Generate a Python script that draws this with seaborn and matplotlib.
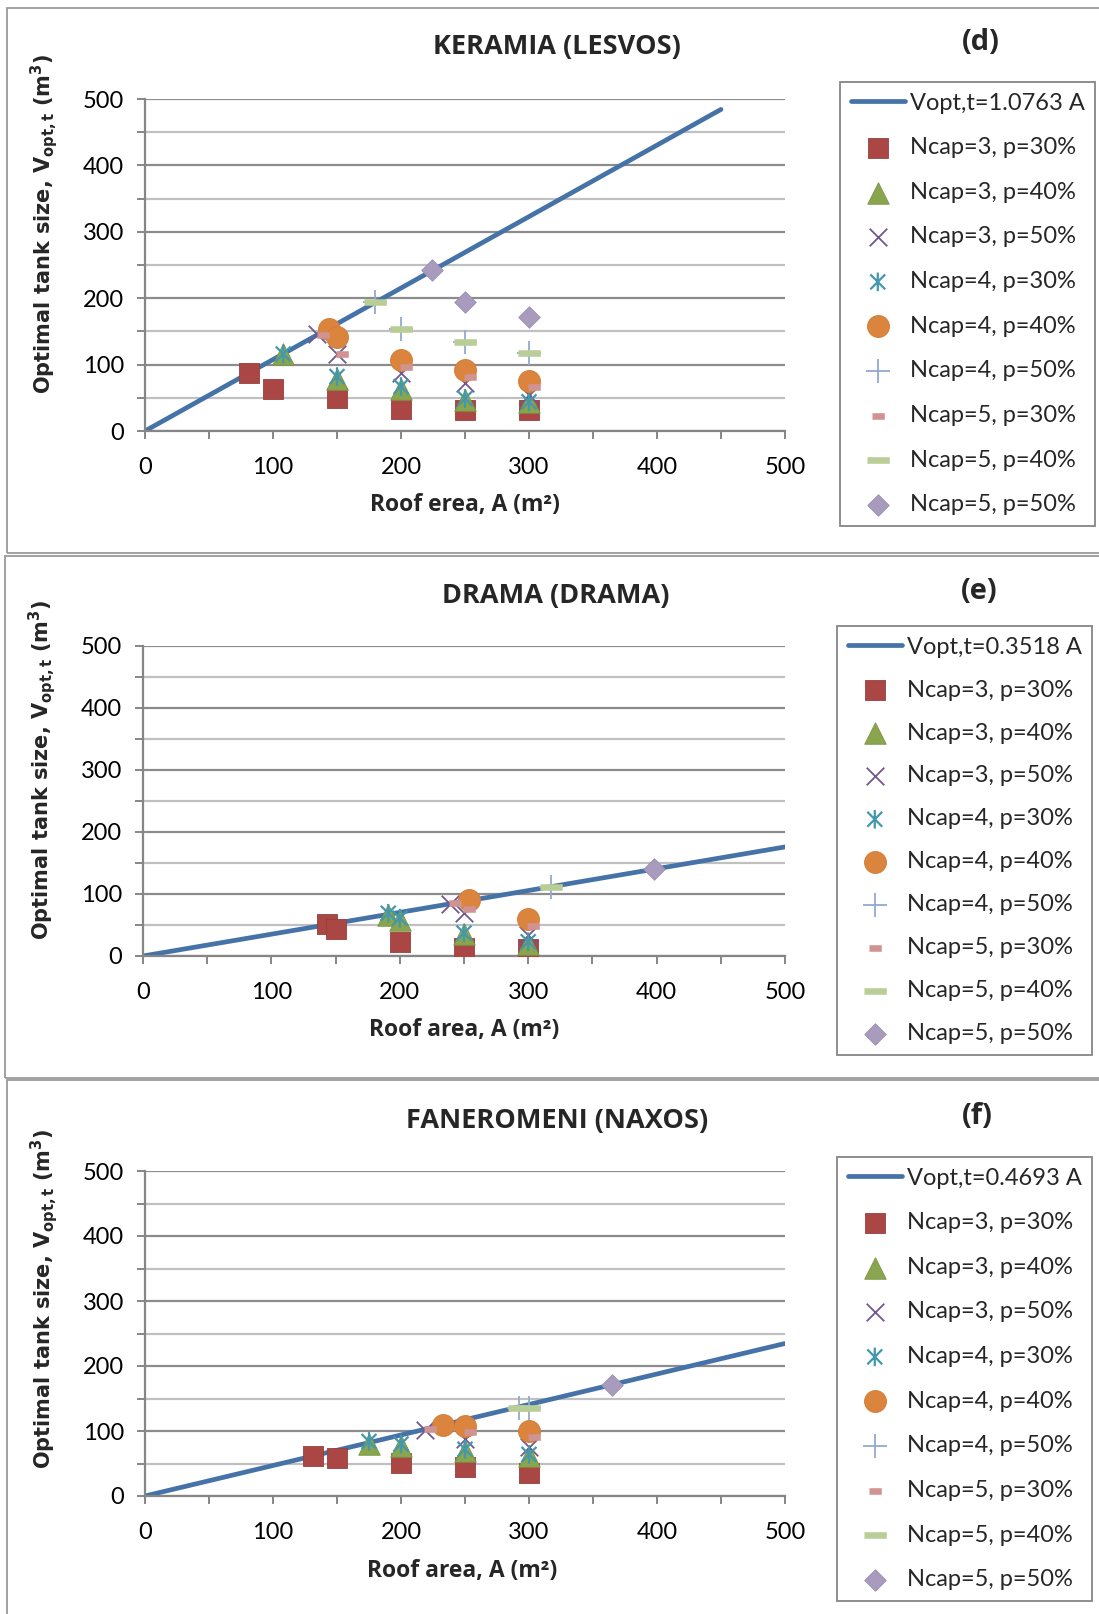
import numpy as np
import matplotlib
matplotlib.use("Agg")
import matplotlib.pyplot as plt
from matplotlib.path import Path
from matplotlib.patches import Rectangle
from matplotlib.ticker import MultipleLocator
import seaborn as sns

# ---------------- data ----------------
series_labels = ["Ncap=3, p=30%", "Ncap=3, p=40%", "Ncap=3, p=50%",
                 "Ncap=4, p=30%", "Ncap=4, p=40%", "Ncap=4, p=50%",
                 "Ncap=5, p=30%", "Ncap=5, p=40%", "Ncap=5, p=50%"]

# Panel (d) KERAMIA (LESVOS)
d_slope = 1.0763
d_line_A = [0, 450]
d_A = [
    [81, 100, 150, 200, 250, 300],
    [108, 150, 200, 250, 300],
    [134, 150, 200, 250, 300],
    [108, 150, 200, 250, 300],
    [144, 150, 200, 250, 300],
    [180, 200, 250, 300],
    [139, 154, 204, 254, 304],
    [180, 200, 250, 300],
    [224, 250, 300],
]
d_V = [
    [87, 63, 49, 33, 32, 32],
    [116, 79, 64, 47, 43],
    [146, 116, 87, 72, 54],
    [116, 82, 67, 49, 44],
    [154, 142, 107, 92, 76],
    [194, 154, 134, 118],
    [145, 116, 97, 81, 66],
    [194, 154, 134, 118],
    [243, 194, 172],
]

# Panel (e) DRAMA (DRAMA)
e_slope = 0.3518
e_line_A = [0, 500]
e_A = [
    [143, 150, 200, 250, 300],
    [191, 200, 250, 300],
    [239, 250, 300],
    [191, 200, 250, 300],
    [254, 300],
    [318],
    [243, 254, 304],
    [318],
    [398],
]
e_V = [
    [51, 44, 23, 13, 12],
    [66, 58, 36, 20],
    [84, 69, 34],
    [69, 61, 37, 23],
    [91, 59],
    [112],
    [85, 75, 49],
    [112],
    [140],
]

# Panel (f) FANEROMENI (NAXOS)
f_slope = 0.4693
f_line_A = [0, 500]
f_A = [
    [131, 150, 200, 250, 300],
    [175, 200, 250, 300],
    [219, 250, 300],
    [175, 200, 250, 300],
    [233, 250, 300],
    [292, 300],
    [223, 254, 304],
    [292, 300],
    [365],
]
f_V = [
    [62, 58, 51, 44, 36],
    [80, 77, 69, 62],
    [102, 88, 76],
    [84, 80, 72, 64],
    [110, 107, 100],
    [136, 136],
    [103, 98, 91],
    [136, 136],
    [171],
]

panels = [
    dict(title="KERAMIA (LESVOS)", tag="(d)", xlabel="Roof erea, A (m\u00b2)",
         slope=d_slope, line_A=d_line_A, A=d_A, V=d_V),
    dict(title="DRAMA (DRAMA)", tag="(e)", xlabel="Roof area, A (m\u00b2)",
         slope=e_slope, line_A=e_line_A, A=e_A, V=e_V),
    dict(title="FANEROMENI (NAXOS)", tag="(f)", xlabel="Roof area, A (m\u00b2)",
         slope=f_slope, line_A=f_line_A, A=f_A, V=f_V),
]

# ---------------- styles ----------------
W, H = 1099, 1614
sns.set_theme(style="white")
plt.rcParams['font.family'] = ['Lato', 'DejaVu Sans']
plt.rcParams['mathtext.fontset'] = 'dejavusans'
BOLD_FAMILY = ['Open Sans', 'DejaVu Sans']

line_color = "#4572A7"
grid_major = "#8C8C8C"
grid_minor = "#C0C0C0"
axis_gray = "#868686"

asterisk = Path([(-1, -1), (1, 1), (-1, 1), (1, -1), (0, -1.25), (0, 1.25)],
                [Path.MOVETO, Path.LINETO, Path.MOVETO, Path.LINETO, Path.MOVETO, Path.LINETO])
pink_bar = [(-1, -0.5), (1, -0.5), (1, 0.5), (-1, 0.5)]
green_bar = [(-1, -0.25), (1, -0.25), (1, 0.25), (-1, 0.25)]

styles = [
    dict(marker="s", s=220, color="#AA4643", edgecolor="#93403D", linewidth=0.6),
    dict(marker="^", s=240, color="#89A54E", edgecolor="#7A9444", linewidth=0.6),
    dict(marker="x", s=160, color="#71588F", linewidth=1.3),
    dict(marker=asterisk, s=180, facecolor="none", edgecolor="#4198AF", linewidth=1.6),
    dict(marker="o", s=250, color="#DB843D", edgecolor="#D07A35", linewidth=0.6),
    dict(marker="+", s=320, color="#93A9CF", linewidth=1.3),
    dict(marker=pink_bar, s=75, color="#D19392", edgecolor="#D19392", linewidth=0.4),
    dict(marker=green_bar, s=230, color="#B9CD96", edgecolor="#B9CD96", linewidth=0.4),
    dict(marker="D", s=120, color="#A99BBD", edgecolor="#9C8EB0", linewidth=0.6),
]

fig = plt.figure(figsize=(W / 100, H / 100), dpi=100)

# layout in pixel coordinates (full size)
ax_boxes = [(145, 99, 785, 431), (143, 646, 785, 956), (145, 1171, 785, 1496)]
frames = [(7, 8, 1120, 553), (5, 556, 1120, 1078), (7, 1080, 1120, 1640)]
title_pos = [(557, 47), (556, 596), (557, 1121)]
tag_pos = [(981, 43), (979, 592), (977, 1116)]
ylab_pos = [(44, 224), (42, 770), (44, 1299)]
xlab_pos = [(465, 505), (464, 1030), (462, 1571)]
leg_pos = [(840, 82), (837, 626), (837, 1157)]
leg_spacing = [1.0, 0.93, 1.0]


def fx(px):
    return px / W


def fy(py):
    return 1 - py / H


for i, p in enumerate(panels):
    # panel frame
    x0, y0, x1, y1 = frames[i]
    fig.patches.append(Rectangle((fx(x0), fy(y1)), fx(x1 - x0), (y1 - y0) / H,
                                 transform=fig.transFigure, fill=False,
                                 edgecolor="#9A9A9A", linewidth=1.3, zorder=0))
    l, t, r, b = ax_boxes[i]
    ax = fig.add_axes([fx(l), fy(b), fx(r - l), (b - t) / H])
    ax.set_xlim(0, 500)
    ax.set_ylim(0, 500)
    ax.xaxis.set_major_locator(MultipleLocator(100))
    ax.xaxis.set_minor_locator(MultipleLocator(50))
    ax.yaxis.set_major_locator(MultipleLocator(100))
    ax.yaxis.set_minor_locator(MultipleLocator(50))
    ax.grid(which="major", axis="y", color=grid_major, linewidth=1.6, zorder=0)
    ax.grid(which="minor", axis="y", color=grid_minor, linewidth=1.6, zorder=0)
    ax.grid(which="both", axis="x", visible=False)
    ax.set_axisbelow(True)
    for sp in ["top", "right"]:
        ax.spines[sp].set_visible(False)
    for sp in ["left", "bottom"]:
        ax.spines[sp].set_color(axis_gray)
        ax.spines[sp].set_linewidth(1.6)
    ax.tick_params(which="both", direction="out", length=6, width=1.4,
                   color=axis_gray, left=True, bottom=True)
    ax.tick_params(which="major", labelsize=17, labelcolor="black")
    ax.tick_params(axis="x", which="major", pad=13)
    ax.tick_params(axis="y", which="major", pad=9)

    # fitted line
    lineA = np.array(p["line_A"], dtype=float)
    sns.lineplot(x=lineA, y=p["slope"] * lineA, ax=ax, color=line_color,
                 linewidth=3.4, label=f"Vopt,t={p['slope']:.4f} A", zorder=2,
                 solid_capstyle="round")

    for k, lab in enumerate(series_labels):
        st = dict(styles[k])
        sns.scatterplot(x=p["A"][k], y=p["V"][k], ax=ax, label=lab, zorder=3 + k, **st)

    ax.set_xlabel("")
    ax.set_ylabel("")

    leg = ax.legend(loc="upper left",
                    bbox_to_anchor=(fx(leg_pos[i][0]), fy(leg_pos[i][1])),
                    bbox_transform=fig.transFigure, fontsize=17, frameon=True,
                    fancybox=False, framealpha=1, edgecolor=axis_gray,
                    handlelength=2.3, handletextpad=0.2, labelspacing=leg_spacing[i],
                    borderpad=0.45, borderaxespad=0)
    leg.get_frame().set_linewidth(1.3)

    fig.text(fx(title_pos[i][0]), fy(title_pos[i][1]), p["title"], ha="center", va="center",
             fontsize=19.5, fontweight="bold", family=BOLD_FAMILY)
    fig.text(fx(tag_pos[i][0]), fy(tag_pos[i][1]), p["tag"], ha="center", va="center",
             fontsize=21, fontweight="bold", family=BOLD_FAMILY)
    fig.text(fx(xlab_pos[i][0]), fy(xlab_pos[i][1]), p["xlabel"], ha="center", va="center",
             fontsize=16.5, fontweight="bold", family=BOLD_FAMILY)
    fig.text(fx(ylab_pos[i][0]), fy(ylab_pos[i][1]),
             r"Optimal tank size, V$_\mathbf{opt,t}$ (m$^\mathbf{3}$)",
             ha="center", va="center", rotation=90, fontsize=15, fontweight="bold",
             family="DejaVu Sans")

fig.savefig("out.png", dpi=100)
